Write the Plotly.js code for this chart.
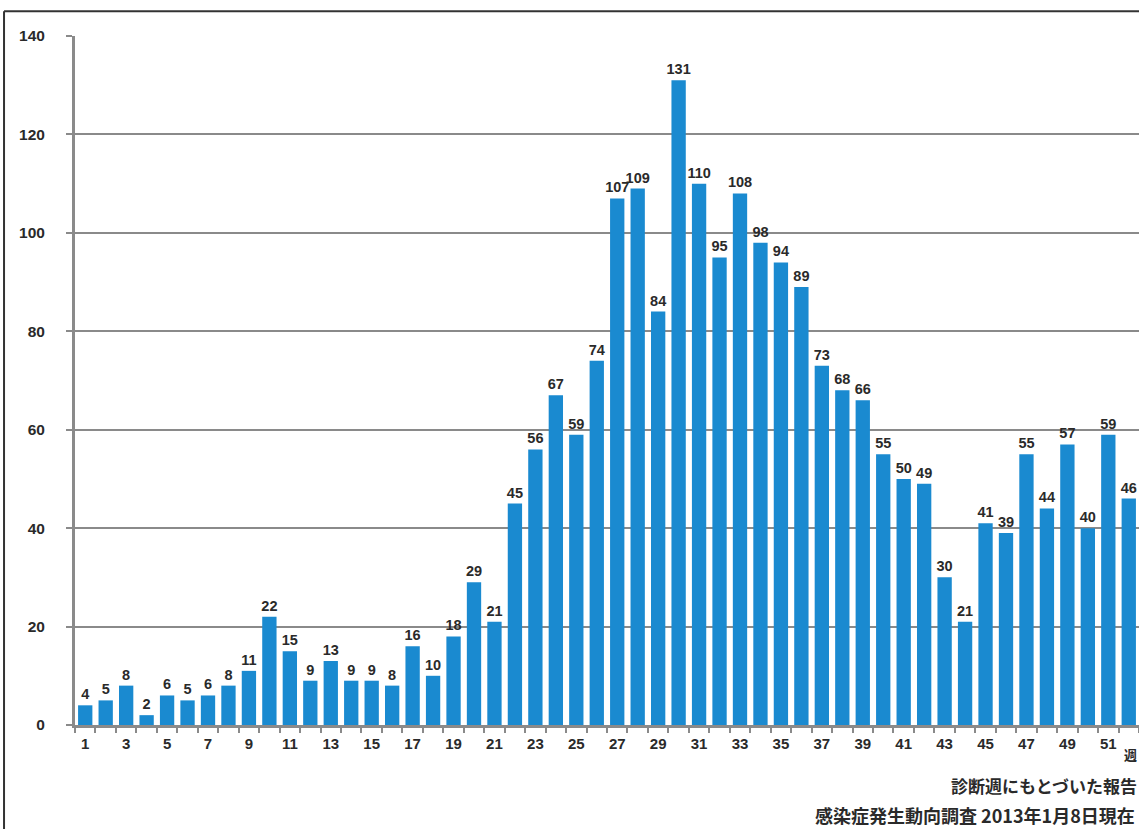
<!DOCTYPE html>
<html>
<head>
<meta charset="utf-8">
<script src="https://cdn.plot.ly/plotly-3.0.1.min.js"></script>
<style>html,body{margin:0;padding:0;background:#fff;}#chart{width:1139px;height:829px;}</style>
</head>
<body>
<div id="chart"></div>
<script>
const weeks = [1,2,3,4,5,6,7,8,9,10,11,12,13,14,15,16,17,18,19,20,21,22,23,24,25,26,27,28,29,30,31,32,33,34,35,36,37,38,39,40,41,42,43,44,45,46,47,48,49,50,51,52];
const cases = [4,5,8,2,6,5,6,8,11,22,15,9,13,9,9,8,16,10,18,29,21,45,56,67,59,74,107,109,84,131,110,95,108,98,94,89,73,68,66,55,50,49,30,21,41,39,55,44,57,40,59,46];
const yTicks = [0,20,40,60,80,100,120,140];
const xLabelWeeks = weeks.filter(w => w % 2 === 1);
const axisUnit = "週";
const note1 = "診断週にもとづいた報告";
const note2 = "感染症発生動向調査 2013年1月8日現在";

const FONT = "Liberation Sans, Arial, sans-serif";
const JP = "Noto Sans CJK JP, sans-serif";
const TXT = "#2a2a2a";

const trace = {
  type: "bar",
  x: weeks,
  y: cases,
  text: cases.map(String),
  textposition: "outside",
  constraintext: "none",
  cliponaxis: false,
  textfont: {family: FONT, size: 14.5, color: TXT, weight: "bold"},
  marker: {color: "#1a8ad0", line: {width: 0}},
  hoverinfo: "x+y"
};

const boundaries = weeks.map(w => w - 0.5).concat([weeks[weeks.length-1] + 0.5]);

const layout = {
  width: 1139, height: 829,
  margin: {l: 75, r: 0, t: 36, b: 104},
  paper_bgcolor: "#ffffff",
  plot_bgcolor: "#ffffff",
  bargap: 0.3,
  showlegend: false,
  xaxis: {
    range: [0.5, 52.5],
    tickmode: "array",
    tickvals: boundaries,
    ticktext: boundaries.map(() => ""),
    ticks: "outside", ticklen: 5, tickwidth: 2, tickcolor: "#8a8a8a",
    showgrid: false, zeroline: false,
    showline: true, linecolor: "#8a8a8a", linewidth: 3,
    fixedrange: true
  },
  xaxis2: {
    overlaying: "x",
    matches: "x",
    range: [0.5, 52.5],
    side: "bottom",
    anchor: "y",
    tickmode: "array",
    tickvals: xLabelWeeks,
    ticktext: xLabelWeeks.map(String),
    ticks: "",
    showgrid: false, zeroline: false, showline: false,
    tickfont: {family: FONT, size: 15, color: TXT, weight: "bold"},
    ticklabelstandoff: 8
  },
  yaxis: {
    range: [0, 140],
    tickmode: "array",
    tickvals: yTicks,
    ticktext: yTicks.map(String),
    ticks: "outside", ticklen: 6, tickwidth: 2, tickcolor: "#8a8a8a",
    showgrid: true, gridcolor: "#8a8a8a", gridwidth: 2,
    zeroline: false,
    showline: true, linecolor: "#8a8a8a", linewidth: 3,
    tickfont: {family: FONT, size: 15.5, color: TXT, weight: "bold"},
    ticklabelstandoff: 18,
    fixedrange: true
  },
  shapes: [
    {type: "line", xref: "paper", yref: "paper", x0: -0.0667, x1: -0.0667, y0: 1.036, y1: -0.2, line: {color: "#333", width: 2}},
    {type: "line", xref: "paper", yref: "paper", x0: -0.0667, x1: 1.01, y0: 1.036, y1: 1.036, line: {color: "#333", width: 2}}
  ],
  annotations: [
    {xref: "paper", yref: "paper", x: 0.984, y: -0.0435, xanchor: "left", yanchor: "middle", text: axisUnit, showarrow: false, font: {family: JP, size: 13, color: TXT, weight: "bold"}},
    {xref: "paper", yref: "paper", x: 0.8215, y: -0.0871, xanchor: "left", yanchor: "middle", text: note1, showarrow: false, font: {family: JP, size: 17, color: TXT, weight: "bold"}},
    {xref: "paper", yref: "paper", x: 0.6936, y: -0.1306, xanchor: "left", yanchor: "middle", text: note2, showarrow: false, font: {family: JP, size: 18, color: TXT, weight: "bold"}}
  ]
};

const labelTrace = {type: "scatter", x: [], y: [], xaxis: "x2", yaxis: "y", hoverinfo: "skip"};

Plotly.newPlot("chart", [trace, labelTrace], layout, {staticPlot: true, displayModeBar: false});
</script>
</body>
</html>
